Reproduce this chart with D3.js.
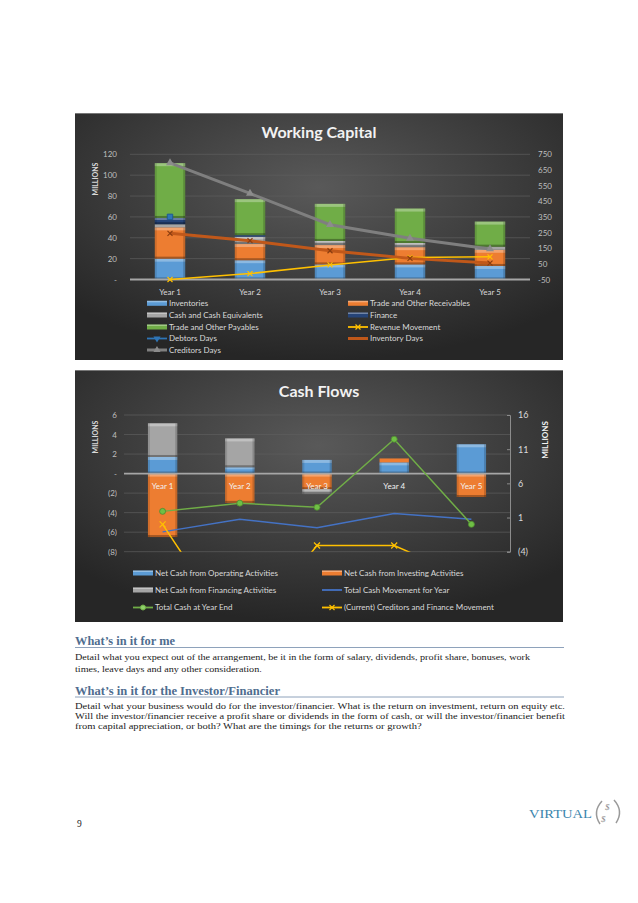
<!DOCTYPE html>
<html><head><meta charset="utf-8">
<script src="https://cdn.jsdelivr.net/npm/d3@7"></script>
<style>body{margin:0;background:#fff;} svg{display:block;}</style>
</head><body><svg id="c" width="638" height="903"></svg>
<script>
// ---------- DATA ----------
const years = ["Year 1", "Year 2", "Year 3", "Year 4", "Year 5"];
// Working capital (millions, left axis)
const inventories = [20, 18.5, 14.5, 14.5, 13];
const receivables = [30, 15.5, 18.5, 16.5, 15.5];
const cashEquiv = [3, 7, 4, 4, 3];
const finance = [6, 1.5, 0, 0, 0];
const payables = [52.5, 34.5, 35.5, 33, 24];
// Working capital lines (right axis)
const revenueMovement = [-50, -12, 43, 90, 95];
const debtorsDays = [350, null, null, null, null];
const inventoryDays = [245, 198, 134, 85, 55];
const creditorsDays = [695, 500, 300, 213, 145];
const wcLeftTicks = [0, 20, 40, 60, 80, 100, 120];
const wcRightTicks = [-50, 50, 150, 250, 350, 450, 550, 650, 750];
const wcLegend = [
  ["Inventories", "Trade and Other Receivables"],
  ["Cash and Cash Equivalents", "Finance"],
  ["Trade and Other Payables", "Revenue Movement"],
  ["Debtors Days", "Inventory Days"],
  ["Creditors Days"]
];
// Cash flows (millions)
const opCash = [1.7, 0.65, 1.4, 1.15, 3.0];
const invCash = [-6.5, -3.0, -1.6, 0.4, -2.4];
const finCash = [3.45, 2.95, -0.5, 0, 0];
const totalMovement = [-1.1, 0.75, -0.5, 1.6, 0.75];
const totalCashEnd = [1.9, 3.1, 2.5, 12.45, 0.0];
const creditorsFinMovement = [0, -17, -3.1, -3.1, -8];
const cfLeftTicks = [-8, -6, -4, -2, 0, 2, 4, 6];
const cfRightTicks = [-4, 1, 6, 11, 16];
const cfLegend = [
  ["Net Cash from Operating Activities", "Net Cash from Investing Activities"],
  ["Net Cash from Financing Activities", "Total Cash Movement for Year"],
  ["Total Cash at Year End", "(Current) Creditors and Finance Movement"]
];
// Text
const heading1 = "What\u2019s in it for me";
const body1 = ["Detail what you expect out of the arrangement, be it in the form of salary, dividends, profit share, bonuses, work",
  "times, leave days and any other consideration."];
const heading2 = "What\u2019s in it for the Investor/Financier";
const body2 = ["Detail what your business would do for the investor/financier. What is the return on investment, return on equity etc.",
  "Will the investor/financier receive a profit share or dividends in the form of cash, or will the investor/financier benefit",
  "from capital appreciation, or both? What are the timings for the returns or growth?"];

// ---------- STYLE ----------
const C = {blue:"#5b9bd5", orange:"#ed7d31", gray:"#a5a5a5", dblue:"#264478", green:"#70ad47",
  yellow:"#ffc000", invDays:"#c0581a", credDays:"#7f7f7f", debDays:"#2e75b6", moveLine:"#4472c4"};
const FONT = "Lato, 'Open Sans', sans-serif";

const svg = d3.select("#c");
const defs = svg.append("defs");
const rg = defs.append("radialGradient").attr("id","bg").attr("cx","50%").attr("cy","30%").attr("r","70%");
rg.append("stop").attr("offset","0%").attr("stop-color","#595959");
rg.append("stop").attr("offset","100%").attr("stop-color","#262626");

function bevel(g, x, y, w, h, color) {
  if (h <= 0) return;
  g.append("rect").attr("x",x).attr("y",y).attr("width",w).attr("height",h).attr("fill",color);
  if (h >= 4) {
    g.append("rect").attr("x",x).attr("y",y).attr("width",w).attr("height",Math.min(3,h/3)).attr("fill","#fff").attr("opacity",0.3);
    g.append("rect").attr("x",x).attr("y",y+h-2).attr("width",w).attr("height",2).attr("fill","#000").attr("opacity",0.3);
    g.append("rect").attr("x",x).attr("y",y).attr("width",2).attr("height",h).attr("fill","#000").attr("opacity",0.12);
    g.append("rect").attr("x",x+w-2).attr("y",y).attr("width",2).attr("height",h).attr("fill","#000").attr("opacity",0.18);
  }
}
function xMark(g, cx, cy, s, color) {
  g.append("path").attr("d",`M${cx-s},${cy-s}L${cx+s},${cy+s}M${cx-s},${cy+s}L${cx+s},${cy-s}`)
    .attr("stroke",color).attr("stroke-width",1.2).attr("fill","none");
}
function styleAxis(a, color) {
  a.select(".domain").remove();
  a.selectAll("line").remove();
  a.selectAll("text").attr("fill",color).attr("font-family",FONT).attr("font-size",8);
}

// ================= WORKING CAPITAL =================
const p1 = {x:75, y:113, w:488, h:247};
svg.append("rect").attr("x",p1.x).attr("y",p1.y).attr("width",p1.w).attr("height",p1.h).attr("fill","url(#bg)");
svg.append("line").attr("x1",p1.x).attr("x2",p1.x+p1.w).attr("y1",p1.y+0.5).attr("y2",p1.y+0.5).attr("stroke","#777").attr("stroke-width",1);
const x1 = d3.scaleBand().domain(years).range([130,530]).paddingInner(0.62).paddingOuter(0.31);
const y1L = d3.scaleLinear().domain([0,120]).range([279.5,154.3]);
const y1R = d3.scaleLinear().domain([-50,750]).range([279.5,154.3]);
const g1 = svg.append("g");
g1.selectAll(".grid").data(wcLeftTicks.filter(d=>d>0)).join("line")
  .attr("x1",130).attr("x2",530).attr("y1",d=>y1L(d)).attr("y2",d=>y1L(d))
  .attr("stroke","#5e5e5e").attr("stroke-width",0.7);
svg.append("text").attr("x",p1.x+p1.w/2).attr("y",138).attr("text-anchor","middle")
  .attr("font-family",FONT).attr("font-weight","bold").attr("font-size",16).attr("fill","#f2f2f2").text("Working Capital");
svg.append("text").attr("transform","translate(98,179) rotate(-90)").attr("text-anchor","middle")
  .attr("font-family",FONT).attr("font-weight","bold").attr("font-size",7).attr("fill","#d9d9d9").text("MILLIONS");

const wcKeys = ["inv","rec","cash","fin","pay"];
const wcColors = [C.blue, C.orange, C.gray, C.dblue, C.green];
const wcRows = years.map((y,i)=>({year:y, inv:inventories[i], rec:receivables[i], cash:cashEquiv[i], fin:finance[i], pay:payables[i]}));
const wcStack = d3.stack().keys(wcKeys)(wcRows);
wcStack.forEach((s,k)=>{
  s.forEach(d=>{
    const yT = y1L(d[1]), yB = y1L(d[0]);
    bevel(g1, x1(d.data.year), yT, x1.bandwidth(), yB-yT, wcColors[k]);
  });
});
g1.append("line").attr("x1",130).attr("x2",530).attr("y1",279.5).attr("y2",279.5).attr("stroke","#a6a6a6").attr("stroke-width",2);
const xc1 = d=>x1(d)+x1.bandwidth()/2;
const lineR1 = d3.line().defined(d=>d[1]!=null).x(d=>xc1(d[0])).y(d=>y1R(d[1]));
g1.append("path").attr("d",lineR1(years.map((y,i)=>[y,revenueMovement[i]]))).attr("fill","none").attr("stroke",C.yellow).attr("stroke-width",1.5);
years.forEach((y,i)=>xMark(g1, xc1(y), y1R(revenueMovement[i]), 2.5, C.yellow));
g1.append("path").attr("d",lineR1(years.map((y,i)=>[y,inventoryDays[i]]))).attr("fill","none").attr("stroke",C.invDays).attr("stroke-width",3);
years.forEach((y,i)=>xMark(g1, xc1(y), y1R(inventoryDays[i]), 2.5, "#8a3d10"));
g1.append("path").attr("d",lineR1(years.map((y,i)=>[y,creditorsDays[i]]))).attr("fill","none").attr("stroke",C.credDays).attr("stroke-width",3);
years.forEach((y,i)=>g1.append("path").attr("d",d3.symbol(d3.symbolTriangle,28)()).attr("transform",`translate(${xc1(y)},${y1R(creditorsDays[i])})`).attr("fill","#8c8c8c"));
years.forEach((y,i)=>{ if(debtorsDays[i]!=null) g1.append("path").attr("d",d3.symbol(d3.symbolSquare,30)()).attr("transform",`translate(${xc1(y)},${y1R(debtorsDays[i])})`).attr("fill",C.debDays).attr("stroke","#1f5a92"); });
g1.append("path").attr("d",lineR1(years.map((y,i)=>[y,debtorsDays[i]]))).attr("fill","none").attr("stroke",C.debDays).attr("stroke-width",2);

const aL1 = svg.append("g").attr("transform","translate(130,0)")
  .call(d3.axisLeft(y1L).tickValues(wcLeftTicks).tickFormat(d=>d===0?"-":d).tickSize(0).tickPadding(13));
styleAxis(aL1,"#bfbfbf");
const aR1 = svg.append("g").attr("transform","translate(530,0)")
  .call(d3.axisRight(y1R).tickValues(wcRightTicks).tickFormat(d=>d).tickSize(0).tickPadding(8));
styleAxis(aR1,"#bfbfbf");
const aB1 = svg.append("g").attr("transform","translate(0,279.5)")
  .call(d3.axisBottom(x1).tickSize(0).tickPadding(10));
styleAxis(aB1,"#d9d9d9");

// legend
const wcLegStyle = {
  "Inventories":{t:"bar",c:C.blue}, "Trade and Other Receivables":{t:"bar",c:C.orange},
  "Cash and Cash Equivalents":{t:"bar",c:C.gray}, "Finance":{t:"bar",c:C.dblue},
  "Trade and Other Payables":{t:"bar",c:C.green}, "Revenue Movement":{t:"x",c:C.yellow},
  "Debtors Days":{t:"sq",c:C.debDays}, "Inventory Days":{t:"line",c:C.invDays}, "Creditors Days":{t:"tri",c:C.credDays}
};
function legendItem(g, sx, cy, name, st) {
  if (st.t==="bar") {
    g.append("rect").attr("x",sx).attr("y",cy-2.5).attr("width",20).attr("height",5).attr("fill",st.c);
    g.append("rect").attr("x",sx).attr("y",cy-2.5).attr("width",20).attr("height",1.5).attr("fill","#fff").attr("opacity",0.35);
  } else {
    g.append("line").attr("x1",sx).attr("x2",sx+20).attr("y1",cy).attr("y2",cy).attr("stroke",st.c).attr("stroke-width",st.t==="line"||st.t==="tri"?3:1.8);
    if (st.t==="x") xMark(g, sx+10, cy, 2.5, st.c);
    if (st.t==="sq") g.append("path").attr("d",d3.symbol(d3.symbolTriangle,22)()).attr("transform",`translate(${sx+10},${cy}) rotate(180)`).attr("fill",st.c);
    if (st.t==="tri") g.append("path").attr("d",d3.symbol(d3.symbolTriangle,22)()).attr("transform",`translate(${sx+10},${cy})`).attr("fill","#8c8c8c");
    if (st.t==="dot") g.append("circle").attr("cx",sx+10).attr("cy",cy).attr("r",2.5).attr("fill","#8fd16a").attr("stroke",st.c);
  }
  g.append("text").attr("x",sx+22).attr("y",cy+2.8).attr("font-family",FONT).attr("font-size",8).attr("fill","#d9d9d9").text(name);
}
const wcRowY = [303.3, 315, 327, 338.5, 350];
wcLegend.forEach((row,r)=>row.forEach((name,c)=>legendItem(svg, c===0?147:348, wcRowY[r], name, wcLegStyle[name])));

// ================= CASH FLOWS =================
const p2 = {x:75, y:370, w:488, h:252};
svg.append("rect").attr("x",p2.x).attr("y",p2.y).attr("width",p2.w).attr("height",p2.h).attr("fill","url(#bg)");
svg.append("line").attr("x1",p2.x).attr("x2",p2.x+p2.w).attr("y1",p2.y+0.5).attr("y2",p2.y+0.5).attr("stroke","#777").attr("stroke-width",1);
const x2 = d3.scaleBand().domain(years).range([124,510]).paddingInner(0.62).paddingOuter(0.31);
const y2L = d3.scaleLinear().domain([-8,6]).range([551.7,415]);
const y2R = d3.scaleLinear().domain([-4,16]).range([551.7,415]);
const g2 = svg.append("g");
g2.selectAll(".grid").data(cfLeftTicks.filter(d=>d!==0)).join("line")
  .attr("x1",124).attr("x2",510).attr("y1",d=>y2L(d)).attr("y2",d=>y2L(d))
  .attr("stroke","#5e5e5e").attr("stroke-width",0.7);
svg.append("text").attr("x",p2.x+p2.w/2).attr("y",397).attr("text-anchor","middle")
  .attr("font-family",FONT).attr("font-weight","bold").attr("font-size",16).attr("fill","#f2f2f2").text("Cash Flows");
svg.append("text").attr("transform","translate(98,437) rotate(-90)").attr("text-anchor","middle")
  .attr("font-family",FONT).attr("font-weight","bold").attr("font-size",7).attr("fill","#d9d9d9").text("MILLIONS");
svg.append("text").attr("transform","translate(548,440) rotate(-90)").attr("text-anchor","middle")
  .attr("font-family",FONT).attr("font-weight","bold").attr("font-size",8).attr("fill","#f2f2f2").text("MILLIONS");

const cfKeys = ["op","inv","fin"];
const cfColors = [C.blue, C.orange, C.gray];
const cfRows = years.map((y,i)=>({year:y, op:opCash[i], inv:invCash[i], fin:finCash[i]}));
const cfStack = d3.stack().keys(cfKeys).offset(d3.stackOffsetDiverging)(cfRows);
cfStack.forEach((s,k)=>{
  s.forEach(d=>{
    const a = y2L(d[1]), b = y2L(d[0]);
    bevel(g2, x2(d.data.year), Math.min(a,b), x2.bandwidth(), Math.abs(b-a), cfColors[k]);
  });
});
g2.append("line").attr("x1",124).attr("x2",510).attr("y1",y2L(0)).attr("y2",y2L(0)).attr("stroke","#a6a6a6").attr("stroke-width",1.8);
const aB2 = svg.append("g").attr("transform",`translate(0,${y2L(0)})`)
  .call(d3.axisBottom(x2).tickSize(0).tickPadding(10));
styleAxis(aB2,"#f2f2f2");

defs.append("clipPath").attr("id","cfclip").append("rect").attr("x",124).attr("y",410).attr("width",386).attr("height",141.7);
const gl = svg.append("g").attr("clip-path","url(#cfclip)");
const xc2 = d=>x2(d)+x2.bandwidth()/2;
const lineR2 = d3.line().x(d=>xc2(d[0])).y(d=>y2R(d[1]));
gl.append("path").attr("d",lineR2(years.map((y,i)=>[y,totalMovement[i]]))).attr("fill","none").attr("stroke",C.moveLine).attr("stroke-width",1.5);
gl.append("path").attr("d",lineR2(years.map((y,i)=>[y,creditorsFinMovement[i]]))).attr("fill","none").attr("stroke",C.yellow).attr("stroke-width",1.5);
years.forEach((y,i)=>xMark(gl, xc2(y), y2R(creditorsFinMovement[i]), 3, C.yellow));
gl.append("path").attr("d",lineR2(years.map((y,i)=>[y,totalCashEnd[i]]))).attr("fill","none").attr("stroke",C.green).attr("stroke-width",1.5);
years.forEach((y,i)=>gl.append("circle").attr("cx",xc2(y)).attr("cy",y2R(totalCashEnd[i])).attr("r",3).attr("fill","#6fbf45").attr("stroke","#4e8a30").attr("stroke-width",0.8));

const fmtParen = d=>d===0?"-":d<0?`(${-d})`:d;
const aL2 = svg.append("g").attr("transform","translate(124,0)")
  .call(d3.axisLeft(y2L).tickValues(cfLeftTicks).tickFormat(fmtParen).tickSize(0).tickPadding(7));
styleAxis(aL2,"#bfbfbf");
const aR2 = svg.append("g").attr("transform","translate(510,0)")
  .call(d3.axisRight(y2R).tickValues(cfRightTicks).tickFormat(fmtParen).tickSizeInner(-3).tickSizeOuter(-3).tickPadding(8));
aR2.select(".domain").attr("stroke","#8c8c8c");
aR2.selectAll("line").attr("stroke","#8c8c8c");
aR2.selectAll("text").attr("fill","#d9d9d9").attr("font-family",FONT).attr("font-size",9);

const cfLegStyle = {
  "Net Cash from Operating Activities":{t:"bar",c:C.blue}, "Net Cash from Investing Activities":{t:"bar",c:C.orange},
  "Net Cash from Financing Activities":{t:"bar",c:C.gray}, "Total Cash Movement for Year":{t:"line2",c:C.moveLine},
  "Total Cash at Year End":{t:"dot",c:C.green}, "(Current) Creditors and Finance Movement":{t:"x",c:C.yellow}
};
const cfRowY = [573, 590, 607.5];
cfLegend.forEach((row,r)=>row.forEach((name,c)=>legendItem(svg, c===0?133:322, cfRowY[r], name, cfLegStyle[name])));

// ================= TEXT =================
const SERIF = "'Liberation Serif', 'DejaVu Serif', serif";
const HEAD = "#4f6d8f";
function heading(txt, y, w, ruleY) {
  svg.append("text").attr("x",75).attr("y",y).attr("font-family",SERIF).attr("font-weight","bold").attr("font-size",11.5)
    .attr("fill",HEAD).attr("textLength",w).attr("lengthAdjust","spacingAndGlyphs").text(txt);
  svg.append("line").attr("x1",75).attr("x2",564).attr("y1",ruleY).attr("y2",ruleY).attr("stroke","#8ea2bb").attr("stroke-width",1);
}
// full (justified-width) lines get a target width; the paragraph's last line uses the same stretch factor
function body(lines, ys, fullW) {
  const nodes = lines.map((t,i)=>svg.append("text").attr("x",75).attr("y",ys[i]).attr("font-family",SERIF).attr("font-size",8.6)
    .attr("fill","#1a1a1a").text(t));
  const nat0 = nodes[0].node().getComputedTextLength();
  const k = fullW / nat0;
  nodes.forEach((n,i)=>{
    const nat = n.node().getComputedTextLength();
    const w = i < lines.length-1 ? fullW : nat*k;
    n.attr("textLength",w).attr("lengthAdjust","spacingAndGlyphs");
  });
}
heading(heading1, 645, 100, 647.5);
body(body1, [659.5, 672], 455);
heading(heading2, 694.5, 205, 697);
body(body2, [708.5, 718.5, 728.5], 490);

svg.append("text").attr("x",77).attr("y",827).attr("font-family",SERIF).attr("font-size",9.5).attr("fill","#222").text("9");
// logo
svg.append("text").attr("x",529).attr("y",818).attr("font-family",SERIF).attr("font-size",13).attr("fill","#3b86ad")
  .attr("textLength",63).attr("lengthAdjust","spacingAndGlyphs").text("VIRTUAL");
svg.append("path").attr("d","M602,801 Q592,812 600,824").attr("fill","none").attr("stroke","#9a9a9a").attr("stroke-width",1.5);
svg.append("path").attr("d","M614,800 Q624,811 616,823").attr("fill","none").attr("stroke","#9a9a9a").attr("stroke-width",1.5);
svg.append("text").attr("x",605).attr("y",810).attr("font-family",SERIF).attr("font-style","italic").attr("font-size",9).attr("fill","#8a8a8a").text("$");
svg.append("text").attr("x",601).attr("y",822).attr("font-family",SERIF).attr("font-style","italic").attr("font-size",9).attr("fill","#8a8a8a").text("$");
</script></body></html>
